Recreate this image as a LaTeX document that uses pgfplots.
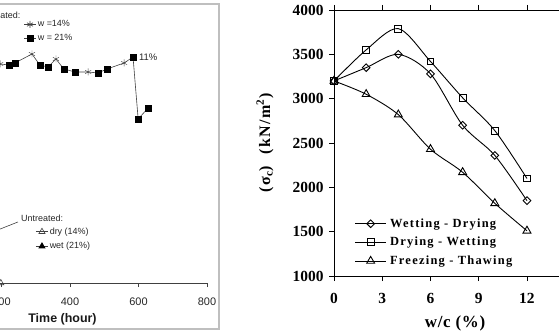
\documentclass[border=0pt]{standalone}
\usepackage{pgfplots}
\pgfplotsset{compat=1.18}
\usepackage{fontspec}
\setmainfont{Liberation Serif}
\newfontfamily\arial{Liberation Sans}
\newfontfamily\timesls[LetterSpace=10]{Liberation Serif}
\newfontfamily\timesxl[LetterSpace=4]{Liberation Serif}
\begin{document}
\begin{tikzpicture}
% ---------------- left chart (cropped) ----------------
\draw[black!25, line width=1.2bp] (-120bp,5bp) rectangle (219bp,330bp);
\begin{axis}[
  at={(-67bp,51bp)}, anchor=south west,
  scale only axis, width=274bp, height=270bp,
  xmin=0, xmax=800, ymin=0, ymax=270,
  clip=false,
  axis x line*=bottom, axis y line*=left,
  xtick={0,200,400,600,800}, ytick=\empty,
  tick align=outside, major tick length=4bp,
  axis line style={black!75, line width=0.7bp},
  tick style={black!75, line width=0.7bp},
  x tick label style={font=\arial\fontsize{11}{12}\selectfont, text=black!85, yshift=-7bp},
  /pgf/number format/assume math mode=true,
  xlabel={Time (hour)},
  every axis x label/.style={font=\arial\bfseries\fontsize{12.5}{14}\selectfont, text=black!90,
    at={(axis description cs:0.4726,-0.1333)}, anchor=center},
  legend image code/.code={\draw[mark repeat=2,mark phase=2,#1] plot coordinates {(0bp,0bp) (6bp,0bp) (12bp,0bp)};},
  legend style={draw=none, fill=none, inner sep=0pt, row sep=3bp, column sep=0bp,
    at={(axis description cs:0.3303,0.978)}, anchor=north west,
    nodes={inner sep=1.5bp, font=\arial\fontsize{9}{10}\selectfont, text=black!85}},
  legend cell align=left,
]
\addplot[black!75, line width=0.6bp, forget plot] coordinates {
 (196,219) (222,218) (239,220) (289,229) (312,218) (336,216) (359,224) (382,214)
 (415,211) (453,211) (482,210) (508,214) (558,220) (584,226) (599,164) (628,175)};
\addplot[only marks, mark=asterisk, mark size=3.5bp, black!75, forget plot] coordinates {
 (196,219) (289,229) (359,224) (453,211) (558,220)};
\addplot[only marks, mark=square*, mark size=3bp, black, forget plot] coordinates {
 (222,218) (239,220) (312,218) (336,216) (382,214) (415,211) (482,210) (508,214)
 (584,226) (599,164) (628,175)};
\addlegendimage{black!75, line width=0.6bp, mark=asterisk, mark size=3.5bp}
\addlegendentry{w =14\%}
\addlegendimage{black!75, line width=0.6bp, mark=square*, mark size=3bp, mark options={black}}
\addlegendentry{w = 21\%}
\node[anchor=west, inner sep=0pt, font=\arial\fontsize{9}{10}\selectfont, text=black!85] at (axis cs:158,268) {Treated:};
\node[anchor=west, inner sep=0pt, font=\arial\fontsize{9.5}{10}\selectfont, text=black!85] at (axis cs:601,226) {11\%};
\end{axis}
\begin{axis}[
  at={(-67bp,51bp)}, anchor=south west,
  scale only axis, width=274bp, height=270bp,
  xmin=0, xmax=800, ymin=0, ymax=270,
  clip=false, hide axis,
  legend image code/.code={\draw[mark repeat=2,mark phase=2,#1] plot coordinates {(0bp,0bp) (6bp,0bp) (12bp,0bp)};},
  legend style={draw=none, fill=none, inner sep=0pt, row sep=3.5bp, column sep=0bp,
    at={(axis description cs:0.374,0.211)}, anchor=north west,
    nodes={inner sep=1.5bp, font=\arial\fontsize{9}{10}\selectfont, text=black!85}},
  legend cell align=left,
]
\addplot[black!75, line width=0.6bp, mark=triangle, mark size=3.5bp, mark options={fill=white}] coordinates {(198,0)};
\addlegendentry{dry (14\%)}
\addlegendimage{black!75, line width=0.6bp, mark=triangle*, mark size=3.5bp, mark options={black}}
\addlegendentry{wet (21\%)}
\draw[black!75, line width=0.6bp] (axis cs:248,61) -- (axis cs:137,46);
\node[anchor=west, inner sep=0pt, font=\arial\fontsize{9}{10}\selectfont, text=black!85] at (axis cs:257,65) {Untreated:};
\end{axis}
% ---------------- right chart ----------------
\begin{axis}[
  at={(334bp,58bp)}, anchor=south west,
  scale only axis, width=241.2bp, height=266bp,
  xmin=0, xmax=15, ymin=1000, ymax=4000,
  xtick={0,3,6,9,12}, ytick={1000,1500,...,4000},
  tick align=outside, major tick length=5bp,
  axis line style={line width=0.9bp},
  tick style={line width=0.9bp, black},
  ticklabel style={font=\bfseries\fontsize{15.5}{16}\selectfont},
  x tick label style={yshift=-8.6bp},
  y tick label style={xshift=-2bp},
  /pgf/number format/assume math mode=true,
  /pgf/number format/1000 sep={},
  xlabel={w/c (\%)},
  every axis x label/.style={font=\timesxl\bfseries\fontsize{17}{18}\selectfont,
    at={(axis description cs:0.5017,-0.1785)}, anchor=center},
  ylabel={(σ\textsubscript{c})\ \ (kN/m\textsuperscript{2})},
  every axis y label/.style={font=\timesls\bfseries\fontsize{16}{18}\selectfont,
    at={(axis description cs:-0.286,0.5)}, anchor=center, rotate=90},
  legend image code/.code={\draw[mark repeat=2,mark phase=2,#1] plot coordinates {(0bp,0bp) (15.5bp,0bp) (31bp,0bp)};},
  legend style={draw=none, fill=none, inner sep=0pt, row sep=5.5bp, column sep=2bp,
    at={(axis description cs:0.085,0.222)}, anchor=north west,
    nodes={inner sep=1.5bp, font=\timesls\bfseries\fontsize{12.5}{14}\selectfont}},
  legend cell align=left,
]
\addplot[black, line width=0.9bp, smooth, mark=square, mark size=2.7bp, mark options={fill=white, solid, rotate=45}] coordinates {
 (0,3200) (2,3350) (4,3500) (6,3280) (8,2700) (10,2360) (12,1850)};
\addlegendentry{Wetting - Drying}
\addplot[black, line width=0.9bp, smooth, mark=square, mark size=3.4bp, mark options={fill=white, solid}] coordinates {
 (0,3200) (2,3550) (4,3790) (6,3420) (8,3010) (10,2640) (12,2100)};
\addlegendentry{Drying - Wetting}
\addplot[black, line width=0.9bp, smooth, mark=triangle, mark size=4.6bp, mark options={fill=white, solid}] coordinates {
 (0,3200) (2,3050) (4,2820) (6,2430) (8,2170) (10,1820) (12,1510)};
\addlegendentry{Freezing - Thawing}
\end{axis}
\pgfresetboundingbox
\useasboundingbox (0bp,0bp) rectangle (559bp,334bp);
\end{tikzpicture}
\end{document}
